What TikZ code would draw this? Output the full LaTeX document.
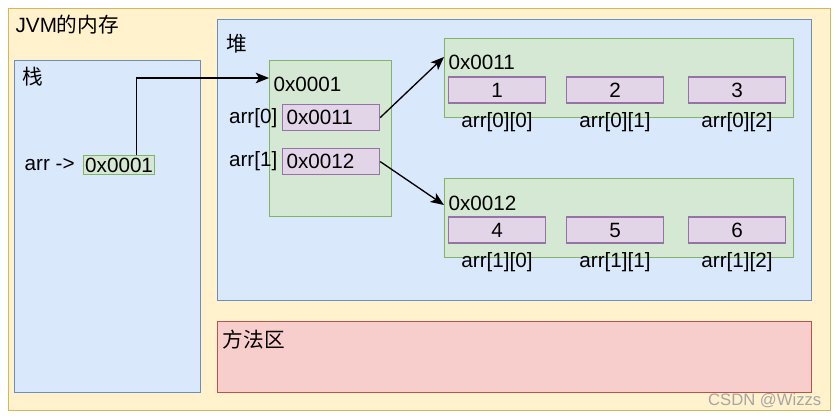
\documentclass[tikz,border=0pt]{standalone}
\usepackage{fontspec}
\setmainfont{Liberation Sans}
\newfontfamily\cjk{Noto Sans CJK SC}
\usepackage{xcolor}
\usetikzlibrary{arrows.meta,positioning}

\definecolor{memfill}{HTML}{FFF2CC}
\definecolor{memline}{HTML}{D6B656}
\definecolor{bluefill}{HTML}{DAE8FC}
\definecolor{blueline}{HTML}{6C8EBF}
\definecolor{greenfill}{HTML}{D5E8D4}
\definecolor{greenline}{HTML}{82B366}
\definecolor{purplefill}{HTML}{E1D5E7}
\definecolor{purpleline}{HTML}{9673A6}
\definecolor{redfill}{HTML}{F8CECC}
\definecolor{redline}{HTML}{B85450}

\tikzset{
  region/.style={draw, anchor=north west, inner sep=0pt, line width=0.9pt},
  greenbox/.style={region, fill=greenfill, draw=greenline},
  cell/.style={draw=purpleline, fill=purplefill, line width=0.9pt,
    minimum width=72.75pt, minimum height=19.5pt, inner sep=0pt},
  txt/.style={inner sep=0pt, anchor=west},
}

\begin{document}
\begin{tikzpicture}[x=0.75pt,y=-0.75pt,font=\fontsize{15.5}{18}\selectfont,
  >={Stealth[length=10pt,width=8pt,inset=2.5pt]}, line width=1pt]
\useasboundingbox (0,0) rectangle (839,418);

% regions
\node[region, fill=memfill, draw=memline, minimum width=616.5pt, minimum height=301.5pt] (jvm) at (8,8) {};
\node[region, fill=bluefill, draw=blueline, minimum width=139.5pt, minimum height=249pt] (stack) at (14,60) {};
\node[region, fill=bluefill, draw=blueline, minimum width=445.5pt, minimum height=210.75pt] (heap) at (217,19) {};
\node[region, fill=redfill, draw=redline, minimum width=445.5pt, minimum height=53.25pt] (method) at (217,321) {};

\node[txt] (jvmlabel) at (15,25) {JVM{\cjk 的内存}};
\node[txt] (stacklabel) at (22,77) {\cjk 栈};
\node[txt] (heaplabel) at (226,44) {\cjk 堆};
\node[txt] (methodlabel) at (222,340) {\cjk 方法区};

% stack
\node[txt] (arrname) at (24,165) {arr ->};
\node[greenbox, minimum width=53.25pt, minimum height=14.25pt] (ref) at (83,155) {};
\node (refval) at (ref.center) {0x0001};

% outer array
\node[greenbox, minimum width=91.5pt, minimum height=117pt] (arrbox) at (269,60) {};
\node[txt] (arraddr) at (273,84) {0x0001};
\node[cell, anchor=north west] (ptrA) at (282,104) {};
\node[txt] at (ptrA.west) [xshift=3pt] {0x0011};
\node[cell, anchor=north west] (ptrB) at (282,148) {};
\node[txt] at (ptrB.west) [xshift=3pt] {0x0012};
\node[inner sep=0pt, anchor=east] (idxA) at (278,118) {arr[0]};
\node[inner sep=0pt, anchor=east] (idxB) at (278,161) {arr[1]};

% inner arrays
\node[greenbox, minimum width=261.75pt, minimum height=59.25pt] (blockA) at (444,38) {};
\node[txt] (addrA) at (448,62) {0x0011};
\node[greenbox, minimum width=261.75pt, minimum height=59.25pt] (blockB) at (444,178) {};
\node[txt] (addrB) at (448,203) {0x0012};

\foreach \v/\w/\cx [count=\i from 0] in {1/4/497, 2/5/615, 3/6/737} {
  \node[cell] (cellA\i) at (\cx,90) {\v};
  \node[inner sep=0pt] (nameA\i) at (\cx,122) {arr[0][\i]};
  \node[cell] (cellB\i) at (\cx,230) {\w};
  \node[inner sep=0pt] (nameB\i) at (\cx,262) {arr[1][\i]};
}

% pointers
\draw[->] ([xshift=13.1pt]ref.north) |- ([yshift=-13.5pt]arrbox.north west);
\draw[->] (ptrA.east) -- ([yshift=-14.25pt]blockA.north west);
\draw[->] (ptrB.east) -- ([yshift=-20.25pt]blockB.north west);

\node[inner sep=0pt, anchor=east, text=gray!70, font=\fontsize{12.5}{14}\selectfont] (mark) at (822,401) {CSDN @Wizzs};
\end{tikzpicture}
\end{document}
